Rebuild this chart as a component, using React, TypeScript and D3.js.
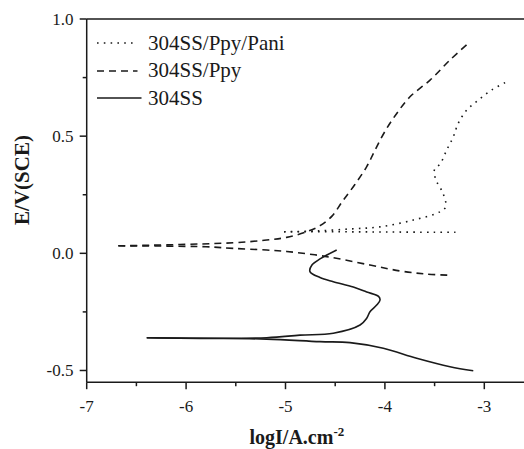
import React from "react";
import * as d3 from "d3";

// ---- data (log I vs E) ----
const paniCathLogI = [-5.015, -4.5, -4.0, -3.5, -3.29];
const paniCathE = [0.092, 0.092, 0.091, 0.09, 0.09];
const paniAnodLogI = [-5.015, -4.72, -4.35, -4.05, -3.714, -3.446, -3.388, -3.416, -3.476, -3.506, -3.49, -3.445, -3.378, -3.312, -3.262, -3.177, -3.06, -2.926, -2.775];
const paniAnodE = [0.092, 0.095, 0.104, 0.113, 0.142, 0.177, 0.199, 0.257, 0.304, 0.347, 0.365, 0.381, 0.441, 0.497, 0.555, 0.611, 0.654, 0.697, 0.732];

const ppyAnodLogI = [-6.682, -5.525, -5.189, -4.988, -4.787, -4.653, -4.53, -4.43, -4.3, -4.183, -4.1, -4.0, -3.881, -3.748, -3.546, -3.345, -3.144];
const ppyAnodE = [0.032, 0.045, 0.057, 0.068, 0.092, 0.118, 0.16, 0.22, 0.295, 0.37, 0.44, 0.52, 0.597, 0.668, 0.739, 0.825, 0.903];
const ppyCathLogI = [-6.682, -5.8, -5.525, -5.189, -4.988, -4.586, -4.15, -3.85, -3.6, -3.378, -3.344];
const ppyCathE = [0.032, 0.028, 0.021, 0.014, 0.008, -0.014, -0.05, -0.075, -0.088, -0.093, -0.093];

const ssCathLogI = [-3.111, -3.345, -3.68, -4.016, -4.351, -4.653, -5.189, -5.86, -6.396];
const ssCathE = [-0.501, -0.484, -0.448, -0.405, -0.381, -0.377, -0.366, -0.363, -0.36];
const ssAnodLogI = [-6.396, -5.189, -4.854, -4.519, -4.25, -4.183, -4.15, -4.083, -4.049, -4.064, -4.183, -4.318, -4.519, -4.653, -4.754, -4.734, -4.653, -4.485];
const ssAnodE = [-0.36, -0.36, -0.349, -0.341, -0.306, -0.277, -0.249, -0.221, -0.199, -0.184, -0.165, -0.144, -0.121, -0.103, -0.078, -0.05, -0.024, 0.014];

const seriesNames = ["304SS/Ppy/Pani", "304SS/Ppy", "304SS"];
const xTicks = [-7, -6, -5, -4, -3];
const xMinorTicks = [-6.5, -5.5, -4.5, -3.5];
const yTicks = [-0.5, 0, 0.5, 1.0];
const yTickLabels = ["-0.5", "0.0", "0.5", "1.0"];
const yMinorTicks = [-0.25, 0.25, 0.75];

const W = 524;
const H = 449;
const FONT = "Liberation Serif";
const INK = "#1a1a1a";

export default function App() {
  const x = d3.scaleLinear().domain([-7, -2.5]).range([86.7, 534]);
  const y = d3.scaleLinear().domain([-0.55, 1.0]).range([382.2, 19]);
  const line = d3
    .line<[number, number]>()
    .x((d) => x(d[0]))
    .y((d) => y(d[1]))
    .curve(d3.curveCatmullRom.alpha(0.5));
  const zip = (a: number[], b: number[]) => a.map((v, i) => [v, b[i]] as [number, number]);

  const x0 = x(-7);
  const yBottom = y(-0.55);
  const yTop = y(1.0);

  const dotted = "1.6,5.2";
  const dashed = "7,5";

  const legendRows = [
    { name: seriesNames[0], dash: dotted, ly: 43, ty: 49.5 },
    { name: seriesNames[1], dash: dashed, ly: 71, ty: 77 },
    { name: seriesNames[2], dash: undefined, ly: 98, ty: 104.5 },
  ];

  return (
    <svg width={W} height={H} style={{ position: "absolute", left: 0, top: 0, background: "#fff" }}>
      <rect x={0} y={0} width={W} height={H} fill="#fff" />
      {/* curves */}
      <g fill="none" stroke={INK} strokeWidth={1.6}>
        <path d={line(zip(paniCathLogI, paniCathE)) || ""} strokeDasharray={dotted} />
        <path d={line(zip(paniAnodLogI, paniAnodE)) || ""} strokeDasharray={dotted} />
        <path d={line(zip(ppyAnodLogI, ppyAnodE)) || ""} strokeDasharray={dashed} />
        <path d={line(zip(ppyCathLogI, ppyCathE)) || ""} strokeDasharray={dashed} />
        <path d={line(zip(ssCathLogI, ssCathE)) || ""} />
        <path d={line(zip(ssAnodLogI, ssAnodE)) || ""} />
      </g>

      {/* frame */}
      <g stroke={INK} strokeWidth={1.5} fill="none">
        <line x1={x0} y1={yTop} x2={W} y2={yTop} />
        <line x1={x0} y1={yTop} x2={x0} y2={yBottom} />
        <line x1={x0} y1={yBottom} x2={W} y2={yBottom} />
        {xTicks.map((t) => (
          <line key={"xt" + t} x1={x(t)} y1={yBottom} x2={x(t)} y2={yBottom + 7} />
        ))}
        {xMinorTicks.map((t) => (
          <line key={"xm" + t} x1={x(t)} y1={yBottom} x2={x(t)} y2={yBottom + 4} />
        ))}
        {yTicks.map((t) => (
          <line key={"yt" + t} x1={x0} y1={y(t)} x2={x0 - 7} y2={y(t)} />
        ))}
        {yMinorTicks.map((t) => (
          <line key={"ym" + t} x1={x0} y1={y(t)} x2={x0 - 4} y2={y(t)} />
        ))}
      </g>

      {/* tick labels */}
      {xTicks.map((t) => (
        <text key={"xl" + t} x={x(t)} y={412} textAnchor="middle" fontSize={17} fill={INK} style={{ fontFamily: FONT }}>
          {String(t)}
        </text>
      ))}
      {yTicks.map((t, i) => (
        <text key={"yl" + t} x={73.5} y={y(t) + 6} textAnchor="end" fontSize={17} fill={INK} style={{ fontFamily: FONT }}>
          {yTickLabels[i]}
        </text>
      ))}

      {/* axis titles */}
      <text x={249.5} y={443.5} fontSize={20} fontWeight="bold" fill={INK} style={{ fontFamily: FONT }}>
        logI/A.cm
        <tspan fontSize={13} dy={-8}>-2</tspan>
      </text>
      <text
        transform="translate(29,180) rotate(-90)"
        textAnchor="middle"
        fontSize={21}
        fontWeight="bold"
        fill={INK}
        style={{ fontFamily: FONT }}
      >
        E/V(SCE)
      </text>

      {/* legend */}
      {legendRows.map((r) => (
        <g key={r.name}>
          <line
            x1={97}
            x2={r.dash ? 137.5 : 141.5}
            y1={r.ly}
            y2={r.ly}
            stroke={INK}
            strokeWidth={1.6}
            strokeDasharray={r.dash}
          />
          <text x={148} y={r.ty} fontSize={21} fill={INK} style={{ fontFamily: FONT }}>
            {r.name}
          </text>
        </g>
      ))}
    </svg>
  );
}
